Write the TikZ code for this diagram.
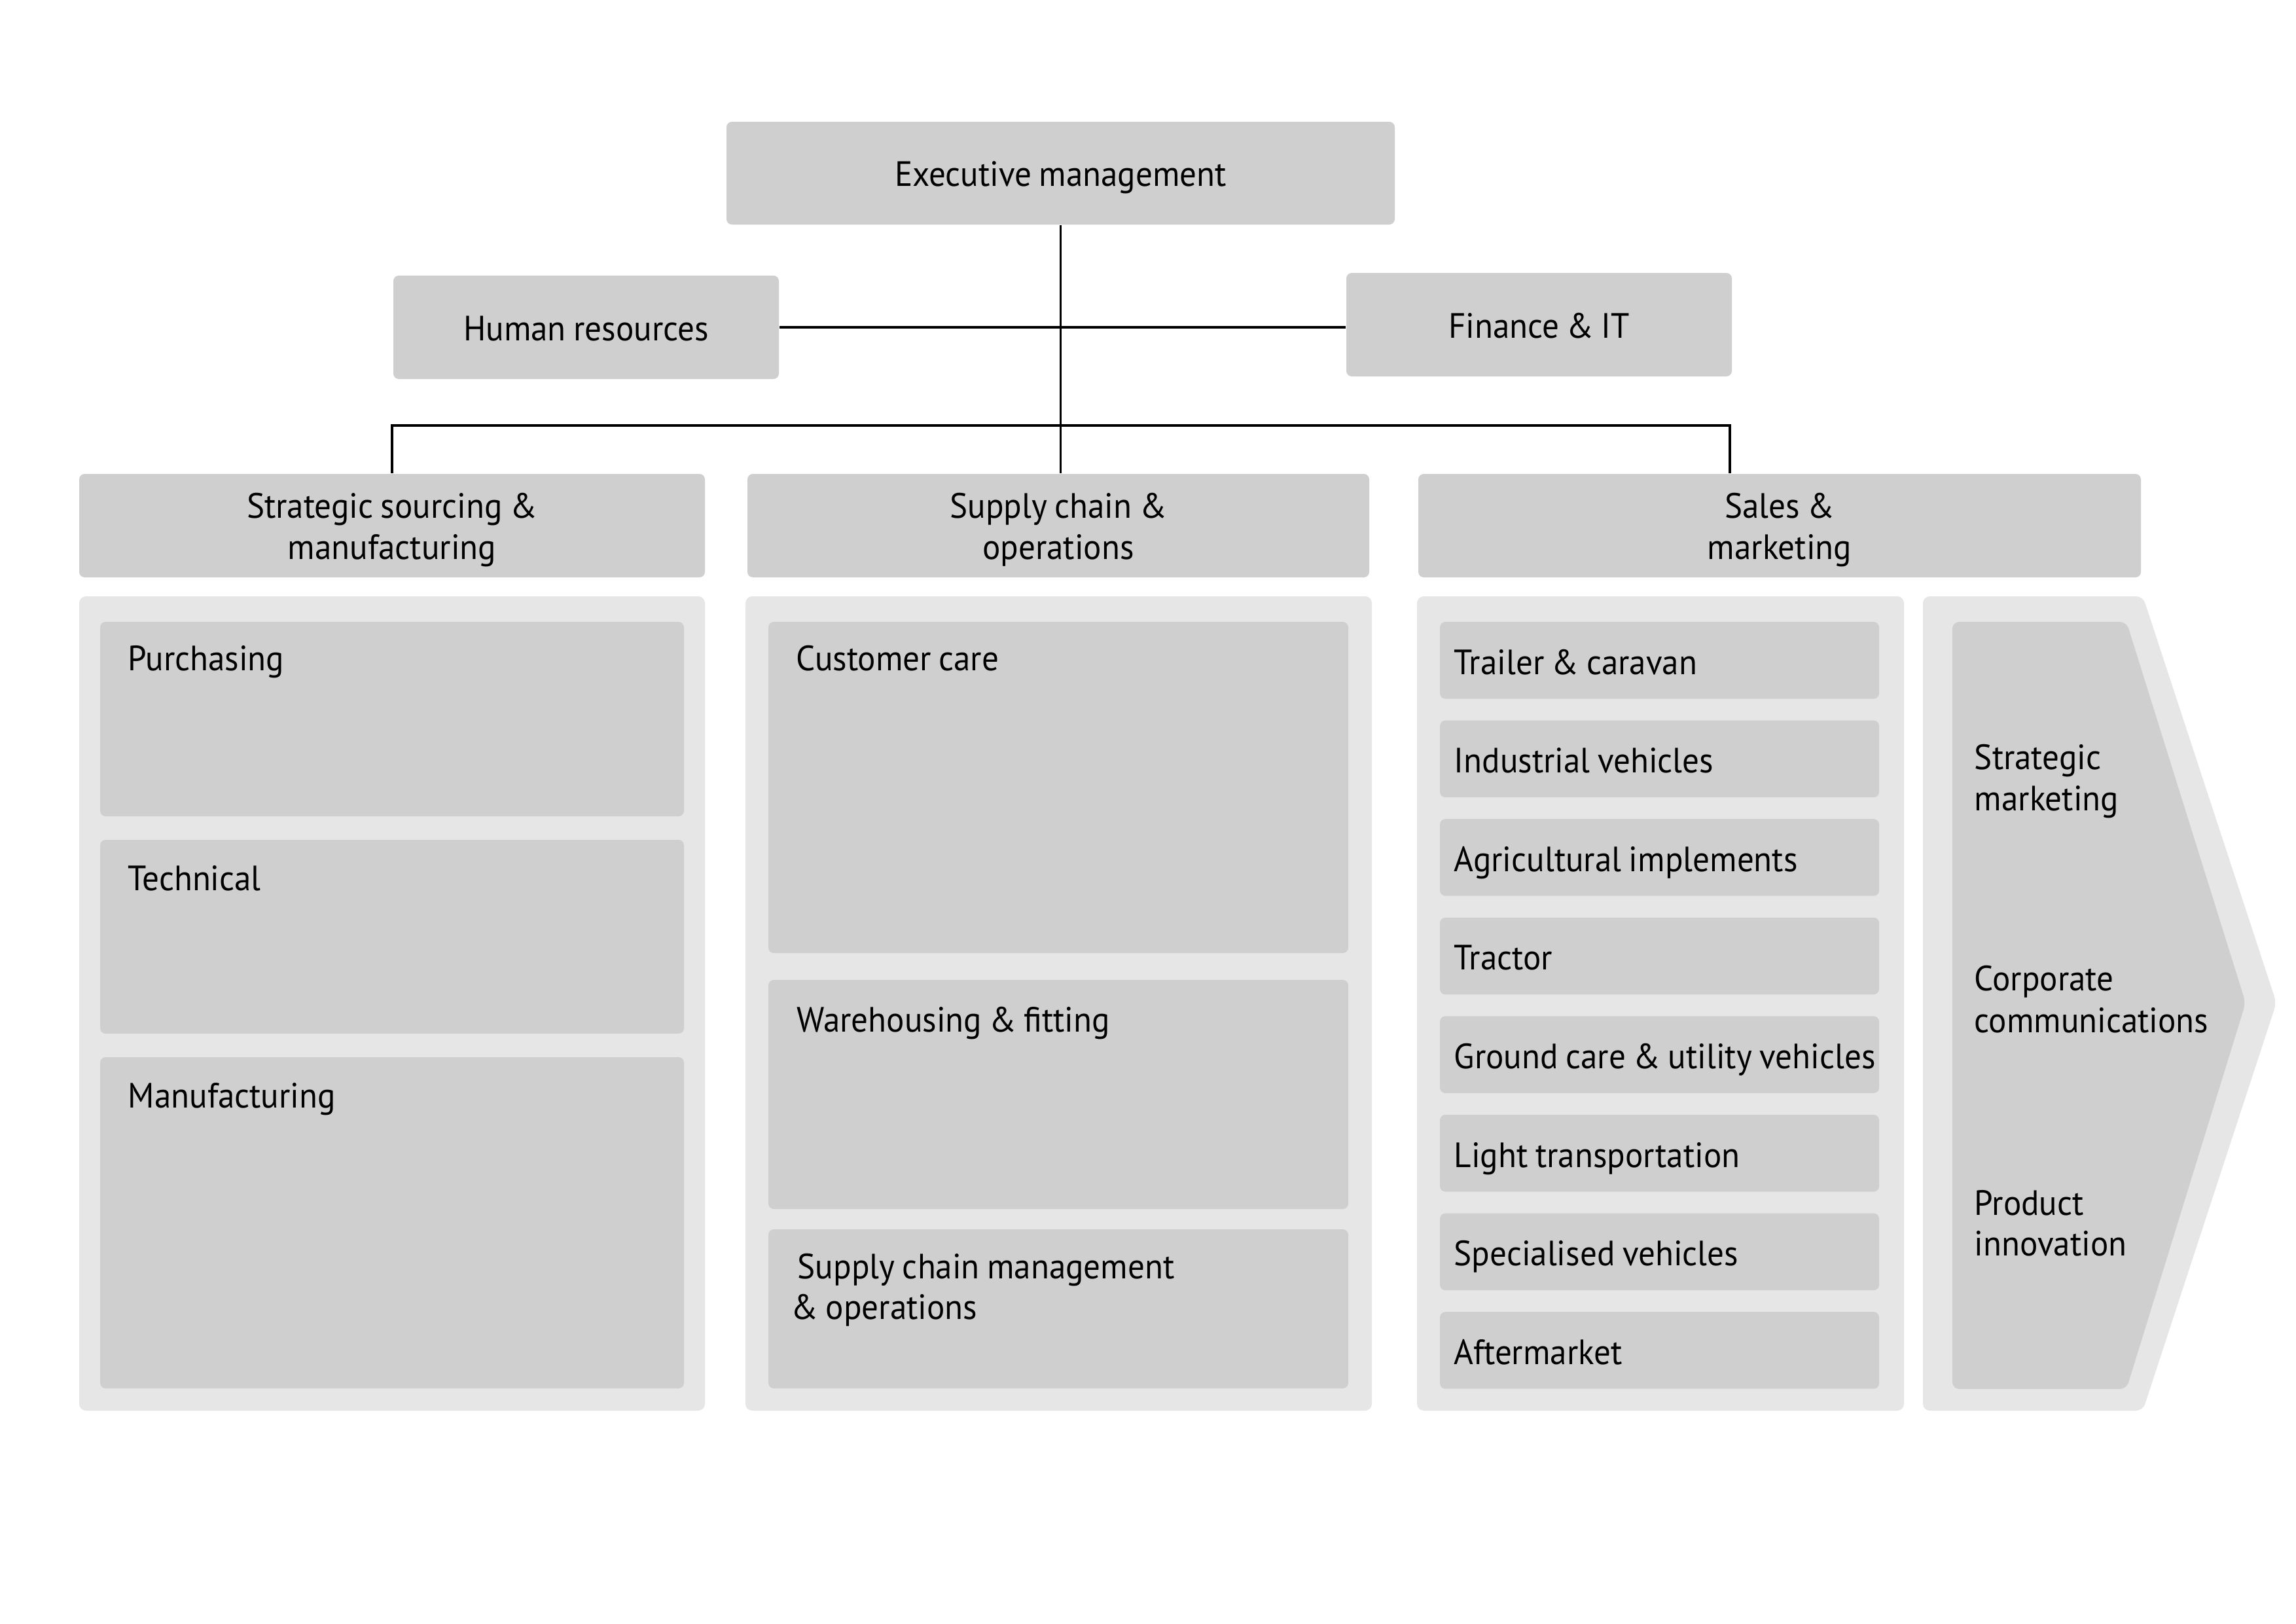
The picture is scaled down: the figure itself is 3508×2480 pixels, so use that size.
\documentclass[tikz,border=0pt]{standalone}
\usepackage{fontspec}
\setmainfont{PT Sans}[FakeStretch=0.95, WordSpace=0.85]
\usetikzlibrary{fit,calc}
\definecolor{boxgray}{HTML}{CFCFCF}
\definecolor{panelgray}{HTML}{E6E6E6}
\tikzset{
  lbl/.style={font=\fontsize{12.9pt}{15.1pt}\selectfont, text=black},
  box/.style={fill=boxgray, rounded corners=2pt, inner sep=0pt, draw=none},
  panel/.style={fill=panelgray, rounded corners=2.5pt, inner sep=0pt, draw=none},
  txt/.style={inner sep=0pt, lbl, anchor=base west},
  ctxt/.style={inner sep=0pt, lbl, anchor=base},
  conn/.style={line width=0.85pt, draw=black},
}
\begin{document}
\begin{tikzpicture}[x=0.24pt, y=-0.24pt]
\useasboundingbox (0,0) rectangle (3508,2480);
\fill[white] (0,0) rectangle (3508,2480);

% top level boxes
\node[box, fit={(1110,186) (2131,343)}] (exec) {};
\node[box, fit={(601,421) (1190,579)}] (hr) {};
\node[box, fit={(2057,417) (2646,575)}] (fin) {};
\node[box, fit={(121,724) (1077,882)}] (strat) {};
\node[box, fit={(1142,724) (2092,882)}] (supply) {};
\node[box, fit={(2167,724) (3271,882)}] (sales) {};

% top level labels
\node[ctxt] (execT) at ($(exec.center)+(0,20)$) {Executive management};
\node[ctxt] (hrT) at ($(hr.center)+(0,20)$) {Human resources};
\node[ctxt] (finT) at ($(fin.center)+(0,20)$) {Finance \& IT};
\node[ctxt] (stratTa) at ($(strat.north)+(0,68)$) {Strategic sourcing \&};
\node[ctxt] (stratTb) at ($(strat.north)+(0,131)$) {manufacturing};
\node[ctxt] (supplyTa) at ($(supply.north)+(0,68)$) {Supply chain \&};
\node[ctxt] (supplyTb) at ($(supply.north)+(0,131)$) {operations};
\node[ctxt] (salesTa) at ($(sales.north)+(0,68)$) {Sales \&};
\node[ctxt] (salesTb) at ($(sales.north)+(0,131)$) {marketing};

% connectors
\coordinate (busR) at (2643,650);
\draw[conn] (exec.south) -- (exec.south |- supply.north);
\draw[conn] (hr.east) -- (hr.east -| fin.west);
\draw[conn] (strat.north) |- (busR) -- (busR |- sales.north);

% panels
\node[panel, fit={(121,911) (1077,2155)}] (p1) {};
\node[panel, fit={(1139,911) (2096,2155)}] (p2) {};
\node[panel, fit={(2165,911) (2909,2155)}] (p3) {};
\fill[panelgray, rounded corners=2.5pt] (2938,911) -- (3274,911) -- (3478,1532) -- (3274,2155) -- (2938,2155) -- cycle;
\fill[boxgray, rounded corners=2.5pt] (2983,950) -- (3249,950) -- (3431,1532) -- (3249,2122) -- (2983,2122) -- cycle;

% left panel
\node[box, fit={(153,950) (1045,1247)}] (purch) {};
\node[box, fit={(153,1283) (1045,1579)}] (tech) {};
\node[box, fit={(153,1615) (1045,2121)}] (manuf) {};
\node[txt] (purchT) at (195,1024) {Purchasing};
\node[txt] (techT) at (195,1360) {Technical};
\node[txt] (manufT) at (195,1692) {Manufacturing};

% middle panel
\node[box, fit={(1174,950) (2060,1456)}] (cust) {};
\node[box, fit={(1174,1497) (2060,1847)}] (ware) {};
\node[box, fit={(1174,1878) (2060,2121)}] (scm) {};
\node[txt] (custT) at (1216,1024) {Customer care};
\node[txt] (wareT) at (1217,1576) {Warehousing \& fitting};
\node[txt] (scmTa) at (1218,1953) {Supply chain management};
\node[txt] (scmTb) at (1208,2015) {\& operations};

% sales list
\foreach \t [count=\i from 0] in {Trailer \& caravan, Industrial vehicles, Agricultural implements, Tractor, Ground care \& utility vehicles, Light transportation, Specialised vehicles, Aftermarket}{
  \pgfmathsetmacro{\ytop}{950+150.6*\i}
  \pgfmathsetmacro{\ybot}{\ytop+117.5}
  \pgfmathsetmacro{\ybl}{\ytop+80}
  \node[box, fit={(2200,\ytop) (2871,\ybot)}] (row\i) {};
  \node[txt] (rowT\i) at (2221,\ybl) {\t};
}

% chevron texts
\node[txt] (smA) at (3016,1175) {Strategic};
\node[txt] (smB) at (3016,1238) {marketing};
\node[txt] (ccA) at (3016,1513) {Corporate};
\node[txt] (ccB) at (3016,1577) {communications};
\node[txt] (piA) at (3016,1856) {Product};
\node[txt] (piB) at (3016,1918) {innovation};
\end{tikzpicture}
\end{document}
